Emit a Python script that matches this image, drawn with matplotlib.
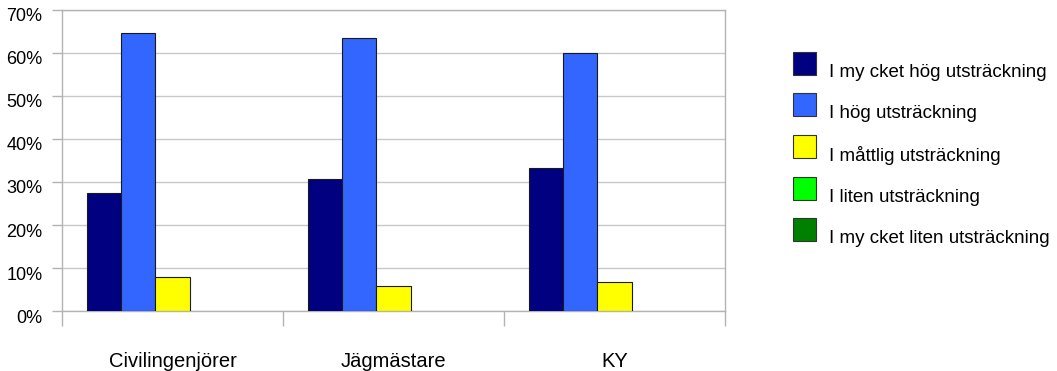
import matplotlib
matplotlib.use("Agg")
import matplotlib.pyplot as plt
import matplotlib.transforms as mtransforms
import numpy as np
from matplotlib.patches import Rectangle

plt.rcParams['font.family'] = ['Liberation Sans', 'DejaVu Sans']

categories = ["Civilingenjörer", "Jägmästare", "KY"]
series_names = ["I my cket hög utsträckning", "I hög utsträckning",
                "I måttlig utsträckning", "I liten utsträckning",
                "I my cket liten utsträckning"]
values = {
    "I my cket hög utsträckning": [27.5, 30.6, 33.3],
    "I hög utsträckning": [64.6, 63.5, 60.0],
    "I måttlig utsträckning": [7.9, 5.9, 6.7],
    "I liten utsträckning": [0.0, 0.0, 0.0],
    "I my cket liten utsträckning": [0.0, 0.0, 0.0],
}
colors = ["#000080", "#3366ff", "#ffff00", "#00ff00", "#008000"]
yticks = [0, 10, 20, 30, 40, 50, 60, 70]
ytick_labels = ["0%", "10%", "20%", "30%", "40%", "50%", "60%", "70%"]

W, H = 1057, 371
fig = plt.figure(figsize=(W/100, H/100), dpi=100)
ax = fig.add_axes([62/W, 1-311.3/H, (725-62)/W, (311.3-9.5)/H])

x = np.arange(len(categories))
bw = 0.154
n = len(series_names)
for i, name in enumerate(series_names):
    vals = values[name]
    offs = (i - (n-1)/2) * bw
    for xi, v in zip(x, vals):
        if v > 0:
            ax.bar(xi + offs, v, width=bw, color=colors[i],
                   edgecolor="#1a1a1a", linewidth=0.8, zorder=3)

ax.set_xlim(-0.5, len(categories) - 0.5)
ax.set_ylim(0, 70)
ax.set_yticks(yticks)
ax.set_yticklabels(ytick_labels, fontsize=13)
ax.yaxis.grid(True, color="#c8c8c8", linewidth=1.0, zorder=0)
ax.set_axisbelow(True)

# category separators as ticks
ax.set_xticks(np.arange(-0.5, len(categories), 1.0))
ax.set_xticklabels([])
ax.set_xticks(x, minor=True)
ax.set_xticklabels(categories, minor=True, fontsize=14.5)
ax.tick_params(axis='x', which='major', length=11, color="#b3b3b3", width=1)
ax.tick_params(axis='x', which='minor', length=0, pad=29)
ax.tick_params(axis='y', length=7, color="#b3b3b3", width=1, pad=7)

# y labels sit slightly below their gridlines in the reference
off = mtransforms.ScaledTranslation(0, -0.05, fig.dpi_scale_trans)
for lbl in ax.get_yticklabels():
    lbl.set_transform(lbl.get_transform() + off)

for s in ax.spines.values():
    s.set_color("#b3b3b3")
    s.set_linewidth(1)

# legend drawn manually to match layout
sq = 23
for i, (name, c) in enumerate(zip(series_names, colors)):
    top = 51.7 + i * 41.6
    fig.patches.append(Rectangle((793/W, 1-(top+sq)/H), sq/W, sq/H,
                                 transform=fig.transFigure, facecolor=c,
                                 edgecolor="#333333", linewidth=0.8))
    fig.text(829/W, 1-(top+20.5)/H, name, fontsize=13.5, va="center", ha="left")

fig.savefig("out.png", dpi=100)
